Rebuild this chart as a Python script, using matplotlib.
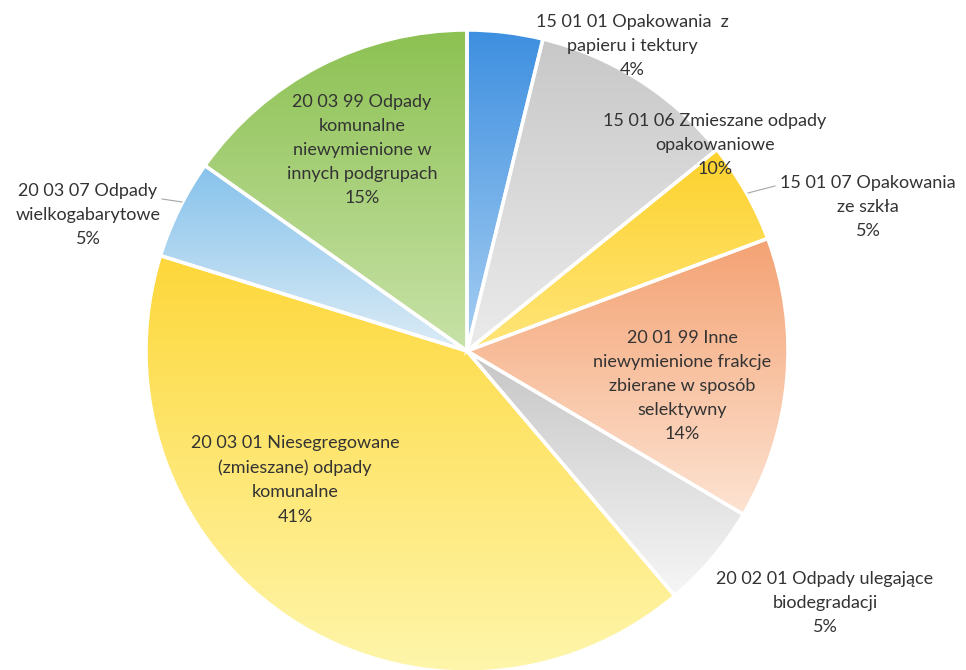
import numpy as np
import matplotlib
matplotlib.use("Agg")
import matplotlib.pyplot as plt
from matplotlib.colors import LinearSegmentedColormap

# waste categories, clockwise from 12 o'clock
labels = [
    "15 01 01 Opakowania  z\npapieru i tektury",
    "15 01 06 Zmieszane odpady\nopakowaniowe",
    "15 01 07 Opakowania\nze szkła",
    "20 01 99 Inne\nniewymienione frakcje\nzbierane w sposób\nselektywny",
    "20 02 01 Odpady ulegające\nbiodegradacji",
    "20 03 01 Niesegregowane\n(zmieszane) odpady\nkomunalne",
    "20 03 07 Odpady\nwielkogabarytowe",
    "20 03 99 Odpady\nkomunalne\nniewymienione w\ninnych podgrupach",
]
shares = [3.8, 10.4, 5.1, 14.2, 5.3, 41.0, 5.0, 15.2]

# gradient (top, bottom) per slice
top_colors = ["#3d8fe0", "#c8c8c8", "#fdd22c", "#f4a273", "#c6c6c6", "#fdd73a", "#86c2ec", "#8cc152"]
bottom_colors = ["#a8cff2", "#ebebeb", "#ffe57a", "#fde3d2", "#f6f6f6", "#fff6ac", "#dcecf6", "#c8e2a8"]

# label anchor (pixel coords, y down)
label_pos = [(632, 46), (715, 145), (868, 207), (682, 386),
             (825, 603), (295, 480), (88, 215), (362, 150)]

W, H = 966, 670
cx, cy, R = 467, 670 - 351, 321

fig = plt.figure(figsize=(W / 100, H / 100), dpi=100)
ax = fig.add_axes([0, 0, 1, 1])

wedges, _ = ax.pie(shares, startangle=90, counterclock=False,
                   center=(cx, cy), radius=R,
                   wedgeprops=dict(edgecolor="white", linewidth=2.5))

for w, c0, c1 in zip(wedges, top_colors, bottom_colors):
    verts = w.get_patch_transform().transform(w.get_path().vertices)
    x0, x1 = verts[:, 0].min(), verts[:, 0].max()
    y0, y1 = verts[:, 1].min(), verts[:, 1].max()
    cmap = LinearSegmentedColormap.from_list("g", [c0, c1])
    grad = np.linspace(0, 1, 256).reshape(-1, 1)
    im = ax.imshow(grad, cmap=cmap, extent=(x0, x1, y0, y1), origin="upper",
                   aspect="auto", zorder=1, interpolation="bilinear")
    im.set_clip_path(w)
    w.set_facecolor("none")
    w.set_zorder(2)

pct = [f"{round(s)}%" for s in shares]
for lab, p, (x, y) in zip(labels, pct, label_pos):
    ax.text(x, H - y, lab + "\n" + p, ha="center", va="center",
            fontsize=13, family="Lato", color="#333333",
            linespacing=1.62, zorder=3)

# leader lines
ax.plot([162, 182], [H - 199, H - 202], color="#a6a6a6", lw=0.8, zorder=3)
ax.plot([748, 775], [H - 193, H - 186], color="#a6a6a6", lw=0.8, zorder=3)

ax.set_xlim(0, W)
ax.set_ylim(0, H)
ax.set_aspect("auto")
ax.axis("off")

fig.savefig("out.png", dpi=100)
